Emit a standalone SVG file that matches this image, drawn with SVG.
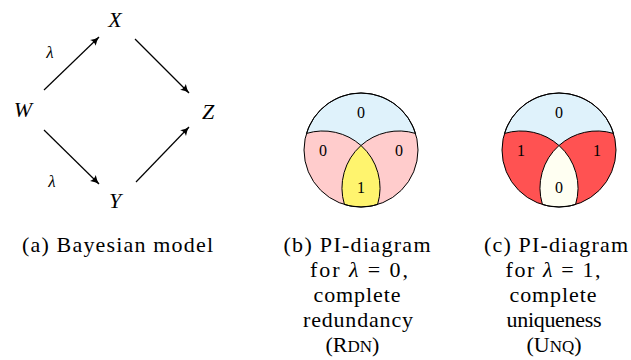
<svg xmlns="http://www.w3.org/2000/svg" width="631" height="360" viewBox="0 0 631 360">
<style>
.math{font-style:italic;fill:#000}
.cap{font-size:22px;fill:#000;text-anchor:middle}
.dig{font-size:16px;fill:#000;text-anchor:middle}
.edge{stroke:#000;stroke-width:1.2;fill:none;marker-end:url(#arr)}
.ln{stroke:#000;stroke-width:1}
</style>
<defs>
<marker id="arr" viewBox="0 0 10 10" refX="9.5" refY="5" markerWidth="9" markerHeight="9" markerUnits="userSpaceOnUse" orient="auto">
<path d="M0,0.5 Q5,4 10,5 Q5,6 0,9.5 Q2.5,5 0,0.5 Z" fill="#000"/>
</marker>
<path id="blue" d="M-54.55,-16.55 A57,57 0 0 1 54.55,-16.55 A57,57 0 0 0 0,-4.49 A57,57 0 0 0 -54.55,-16.55 Z"/>
<path id="mid" d="M0,-4.49 A57,57 0 0 1 16.55,54.55 A57,57 0 0 1 -16.55,54.55 A57,57 0 0 1 0,-4.49 Z"/>
</defs>

<g font-family="Liberation Serif, serif">
<g id="connectors">
<line class="edge" x1="44" y1="90" x2="99" y2="37"/>
<line class="edge" x1="135" y1="39" x2="189" y2="93"/>
<line class="edge" x1="44" y1="130" x2="99" y2="184"/>
<line class="edge" x1="136" y1="182" x2="189" y2="127"/>
<text class="math" x="50" y="58" font-size="17" text-anchor="middle">λ</text>
<text class="math" x="52" y="187" font-size="17" text-anchor="middle">λ</text>
</g>

<g id="node-W"><text class="math" x="23" y="117" font-size="22" text-anchor="middle">W</text></g>
<g id="node-X"><text class="math" x="115" y="27" font-size="22" text-anchor="middle">X</text></g>
<g id="node-Y"><text class="math" x="115" y="208" font-size="22" text-anchor="middle">Y</text></g>
<g id="node-Z"><text class="math" x="208" y="119" font-size="22" text-anchor="middle">Z</text></g>

<g id="pid-b" transform="translate(361,150)">
<circle r="57" fill="#ffcccc"/>
<use href="#blue" class="ln" style="fill:#dff2fb"/>
<use href="#mid" class="ln" style="fill:#fff46e"/>
<circle r="57" class="ln" style="fill:none"/>
<text class="dig" x="0" y="-32">0</text>
<text class="dig" x="-38" y="6">0</text>
<text class="dig" x="38" y="6">0</text>
<text class="dig" x="0" y="43">1</text>
</g>

<g id="pid-c" transform="translate(559,150)">
<circle r="57" fill="#ff5252"/>
<use href="#blue" class="ln" style="fill:#dff2fb"/>
<use href="#mid" class="ln" style="fill:#fffff2"/>
<circle r="57" class="ln" style="fill:none"/>
<text class="dig" x="0" y="-32">0</text>
<text class="dig" x="-38" y="6">1</text>
<text class="dig" x="38" y="6">1</text>
<text class="dig" x="0" y="43">0</text>
</g>

<g id="caption-a">
<text class="cap" x="117.5" y="252" textLength="191">(a) Bayesian model</text>
</g>
<g id="caption-b">
<text class="cap" x="357" y="252" textLength="147">(b) PI-diagram</text>
<text class="cap" x="359" y="277" textLength="98">for <tspan font-style="italic">λ</tspan> = 0,</text>
<text class="cap" x="357" y="302" textLength="87">complete</text>
<text class="cap" x="358" y="327" textLength="110">redundancy</text>
<text class="cap" x="352.5" y="352">(R<tspan font-size="17">DN</tspan>)</text>
</g>
<g id="caption-c">
<text class="cap" x="556" y="252" textLength="144">(c) PI-diagram</text>
<text class="cap" x="553" y="277" textLength="95">for <tspan font-style="italic">λ</tspan> = 1,</text>
<text class="cap" x="553" y="302" textLength="87">complete</text>
<text class="cap" x="554" y="327" textLength="95">uniqueness</text>
<text class="cap" x="554" y="352">(U<tspan font-size="17">NQ</tspan>)</text>
</g>
</g>
</svg>
